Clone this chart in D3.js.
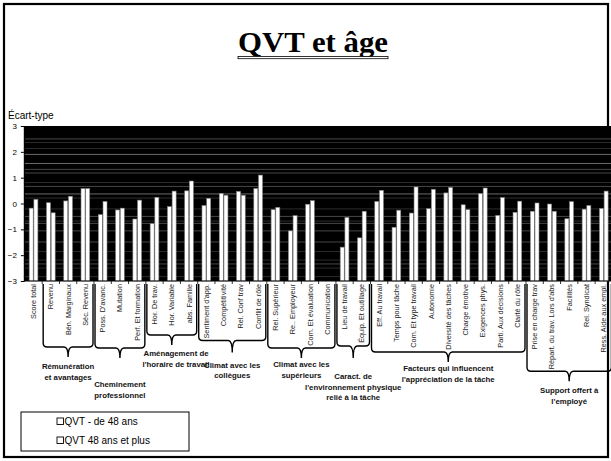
<!DOCTYPE html>
<html><head><meta charset="utf-8">
<script src="https://cdn.jsdelivr.net/npm/d3@7"></script>
<style>body{margin:0;background:#fff}svg{display:block}</style>
</head><body>
<script>
const categories = ["Score total","Revenu","Bén. Marginaux","Séc. Revenu","Poss. D'avanc.","Mutation","Perf. Et formation","Hor. De trav.","Hor. Variable","abs. Famille","Sentiment d'app.","Compétitivité","Rel. Conf trav","Conflit de rôle","Rel. Supérieur","Re.. Employeur","Com. Et évaluation","Communication","Lieu de travail","Équip. Et outillage","Eff. Au travail","Temps pour tâche","Com. Et type travail","Autonomie","Diversité des tâches","Charge émotive","Exigences phys.","Parti. Aux décisions","Clarté du rôle","Prise en charge trav","Répart. du trav. Lors d'abs","Facilités","Rel. Syndicat","Ress. Aide aux empl."];
const seriesNames = ["QVT - de 48 ans","QVT 48 ans et plus"];
const under48 = [-0.18,0.03,0.1,0.58,-0.43,-0.25,-0.6,-0.78,-0.12,0.49,-0.08,0.39,0.47,0.58,-0.24,-1.06,-0.03,null,-1.69,-1.33,0.08,-0.92,-0.37,-0.2,0.41,-0.05,0.38,-0.46,-0.34,-0.3,-0.02,-0.59,-0.22,-0.19];
const over48 = [0.16,-0.36,0.28,0.58,0.08,-0.18,0.13,0.24,0.48,0.87,0.2,0.32,0.32,1.1,-0.15,-0.47,0.11,null,-0.54,-0.3,0.51,-0.26,0.64,0.55,0.62,-0.24,0.6,0.23,0.09,0.02,-0.3,0.07,-0.08,0.48];
const yTicks = [-3,-2,-1,0,1,2,3];
const groups = [
  {lines:["Rémunération","et avantages"], start:1, end:3},
  {lines:["Cheminement","professionnel"], start:4, end:6},
  {lines:["Aménagement  de","l'horaire de travail"], start:7, end:9},
  {lines:["Climat avec les","collègues"], start:10, end:13},
  {lines:["Climat avec les","supérieurs"], start:14, end:17},
  {lines:["Caract. de","l'environnement physique","relié à la tâche"], start:18, end:19},
  {lines:["Facteurs qui influencent","l'appréciation de la tâche"], start:20, end:28},
  {lines:["Support offert à","l'employé"], start:29, end:33}
];
const gridValues = [2.5,2.36,2.13,1.9,1.55,1.32,1.18,0.81,0.66,0.37,0.21,-0.21,-0.5,-0.68,-0.77,-1.06,-1.49,-1.86,-2.19,-2.34,-2.5,-2.83];
const gridShade  = [2,1,1,3,3,2,2,1,2,3,1,1,2,1,2,2,2,1,1,2,1,1];

const W=611,H=461;
const svg=d3.select("body").append("svg").attr("width",W).attr("height",H);
const font="Liberation Sans, Arial, sans-serif";

// frame
svg.append("rect").attr("x",4).attr("y",4).attr("width",604).attr("height",453)
  .attr("fill","#fff").attr("stroke","#000").attr("stroke-width",2.2);

// title
svg.append("text").attr("x",313).attr("y",52).attr("text-anchor","middle")
  .attr("font-family","Liberation Serif, Times New Roman, serif").attr("font-weight","bold")
  .attr("font-size",30).attr("textLength",150).attr("lengthAdjust","spacingAndGlyphs").text("QVT et âge");
svg.append("rect").attr("x",238).attr("y",56.5).attr("width",150).attr("height",2.2)
  .attr("fill","#fff").attr("stroke","#000").attr("stroke-width",0.8);

const plotL=24.9, plotR=612.4, plotT=126, plotB=281;
const x=d3.scaleBand().domain(categories).range([plotL,plotR]).padding(0);
const y=d3.scaleLinear().domain([-3,3]).range([plotB,plotT]);

svg.append("rect").attr("x",plotL-1).attr("y",plotT).attr("width",W-plotL+1).attr("height",plotB-plotT).attr("fill","#000");

const shade={1:"#2c2c2c",2:"#474747",3:"#6a6a6a"};
svg.append("g").selectAll("line").data(gridValues).join("line")
  .attr("x1",plotL-1).attr("x2",W).attr("y1",d=>y(d)).attr("y2",d=>y(d))
  .attr("stroke",(d,i)=>shade[gridShade[i]]).attr("stroke-width",1);

// bars
const bw=4, gap=0.7;
const series=[under48,over48];
series.forEach((vals,si)=>{
  svg.append("g").selectAll("rect").data(categories.map((c,i)=>({c,v:vals[i]})).filter(d=>d.v!=null)).join("rect")
    .attr("x",d=>x(d.c)+x.bandwidth()/2+(si===0?-bw-gap/2:gap/2))
    .attr("y",d=>y(d.v)).attr("width",bw).attr("height",d=>y(-3)-y(d.v))
    .attr("fill","#fff").attr("stroke","#808080").attr("stroke-width",0.6);
});

// y axis
const yAxis=svg.append("g").attr("transform",`translate(${plotL-1},0)`)
  .call(d3.axisLeft(y).tickValues(yTicks).tickSize(3).tickFormat(d3.format("d")));
yAxis.select(".domain").attr("stroke","#000");
yAxis.selectAll("text").attr("font-family",font).attr("font-size",8).attr("fill","#000").attr("dx","-1");
svg.append("text").attr("x",8).attr("y",119).attr("font-family",font).attr("font-size",10).text("Écart-type");

// x ticks
svg.append("g").selectAll("line").data(categories.slice(1)).join("line")
  .attr("x1",d=>x(d)).attr("x2",d=>x(d)).attr("y1",plotB).attr("y2",plotB+3).attr("stroke","#000").attr("stroke-width",0.8);
svg.append("line").attr("x1",plotL-1).attr("x2",W).attr("y1",plotB).attr("y2",plotB).attr("stroke","#000");

// x labels
const labelTop=284;
const xl=svg.append("g").selectAll("text").data(categories).join("text")
  .attr("transform",d=>`translate(${x(d)+x.bandwidth()/2},${labelTop}) rotate(-90)`)
  .attr("text-anchor","end").attr("dy","0.35em")
  .attr("font-family",font).attr("font-size",7.3).attr("fill","#222").text(d=>d);
const labelLen={};
xl.each(function(d){labelLen[d]=this.getComputedTextLength();});

// group brackets
const bracketBottom=[347,348,335,340,348,346,352,370];
const tipLen=[10,10,10,12,10,12,10,10];
const labelOffset=[22,39,21,27,19,33,19,22];
const labelX=[null,null,176,null,null,null,null,null];
groups.forEach((g,i)=>{
  const x0=x(categories[g.start])+1, x1=x(categories[g.end])+x.bandwidth()-1;
  let maxLen=0;
  for(let k=g.start;k<=g.end;k++) maxLen=Math.max(maxLen,labelLen[categories[k]]);
  const yb=Math.max(bracketBottom[i],labelTop+maxLen+2);
  const xm=(x0+x1)/2, yt=284, r=4, tl=tipLen[i];
  const p=`M${x0},${yt} V${yb-r} Q${x0},${yb} ${x0+r},${yb} H${xm-r} Q${xm},${yb} ${xm},${yb+tl} M${xm},${yb+tl} Q${xm},${yb} ${xm+r},${yb} H${x1-r} Q${x1},${yb} ${x1},${yb-r} V${yt}`;
  svg.append("path").attr("d",p).attr("fill","none").attr("stroke","#000").attr("stroke-width",1.4);
  const t=svg.append("text").attr("text-anchor","middle").attr("font-family",font)
    .attr("font-weight","bold").attr("font-size",7.8).attr("fill","#111");
  g.lines.forEach((ln,k)=>t.append("tspan").attr("x",labelX[i]||xm).attr("y",yb+labelOffset[i]+k*10.5).text(ln));
});

// legend
const lg=svg.append("g");
lg.append("rect").attr("x",21).attr("y",412).attr("width",168).attr("height",39).attr("fill","#fff").attr("stroke","#000").attr("stroke-width",1);
seriesNames.forEach((s,i)=>{
  const yy=422+i*19;
  lg.append("rect").attr("x",57).attr("y",yy-4).attr("width",6.5).attr("height",6.5).attr("fill","#fff").attr("stroke","#000").attr("stroke-width",0.9);
  lg.append("text").attr("x",64.5).attr("y",yy+3).attr("font-family",font).attr("font-size",10).text(s);
});
</script>
</body></html>
